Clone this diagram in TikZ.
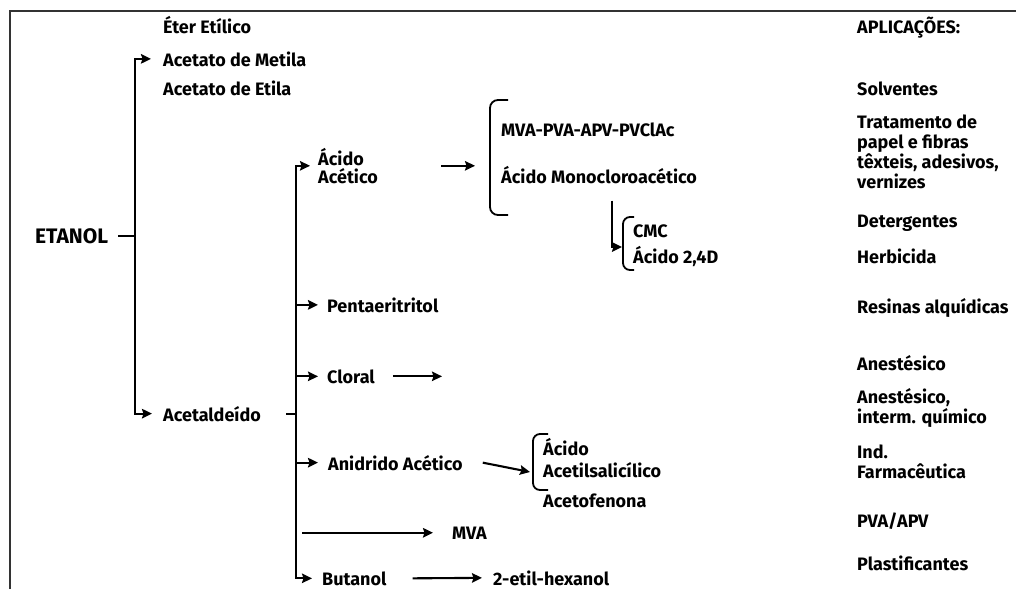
\documentclass[tikz,border=0pt]{standalone}
\usepackage{fontspec}
\setmainfont{Fira Sans}
\usetikzlibrary{arrows.meta,calc}
\begin{document}
\begin{tikzpicture}[x=1pt,y=-1pt,
  txt/.style={anchor=base west, inner sep=0pt, align=left,
    font=\fontsize{18}{20}\selectfont\bfseries},
  ln/.style={line width=2.1pt},
  tip/.tip={Stealth[length=10pt,width=9.5pt,inset=1.5pt]},
  arr/.style={ln, -tip},
  dbl/.style={ln, tip-tip},
  brk/.style={line width=1.8pt, rounded corners=8pt}
]
\useasboundingbox (0,0) rectangle (1016,589);
% frame
\draw[line width=2.6pt, black!80] (10,589) -- (10,11) -- (1016,11);

% left column
\node[txt] (eter) at (163,33) {Éter Etílico};
\node[txt] (metila) at (163,66) {Acetato de Metila};
\node[txt] (etila) at (163,95) {Acetato de Etila};
\node[txt, font=\fontsize{21}{22}\selectfont\bfseries] (etanol) at (35,243) {ETANOL};
\node[txt] (acetald) at (163,421) {Acetaldeído};

% middle (multi-line nodes: base = last line)
\node[txt, font=\fontsize{18}{17.5}\selectfont\bfseries] (acido) at (318,183) {Ácido\\Acético};
\node[txt] (mvapva) at (501,136) {MVA-PVA-APV-PVClAc};
\node[txt] (mono) at (501,183) {Ácido Monocloroacético};
\node[txt] (cmc) at (633,237) {CMC};
\node[txt] (d24) at (633,263) {Ácido 2,4D};
\node[txt] (penta) at (327,312) {Pentaeritritol};
\node[txt] (cloral) at (327,383) {Cloral};
\node[txt] (anid) at (328,470) {Anidrido Acético};
\node[txt, font=\fontsize{18}{22}\selectfont\bfseries] (aas) at (543,477) {Ácido\\Acetilsalicílico};
\node[txt] (acetof) at (543,507) {Acetofenona};
\node[txt] (mva) at (452,539) {MVA};
\node[txt] (butanol) at (322,585) {Butanol};
\node[txt] (etilhex) at (493,585) {2-etil-hexanol};

% applications
\node[txt] (aplic) at (857,33) {APLICAÇÕES:};
\node[txt] (solv) at (857,95) {Solventes};
\node[txt] (trat) at (857,188) {Tratamento de\\papel e fibras\\têxteis, adesivos,\\vernizes};
\node[txt] (deter) at (857,227) {Detergentes};
\node[txt] (herb) at (857,263) {Herbicida};
\node[txt] (resin) at (857,313) {Resinas alquídicas};
\node[txt] (anest1) at (857,370) {Anestésico};
\node[txt] (anest2) at (857,423) {Anestésico,\\interm. químico};
\node[txt] (ind) at (857,478) {Ind.\\Farmacêutica};
\node[txt] (pvaapv) at (857,527) {PVA/APV};
\node[txt] (plast) at (857,570) {Plastificantes};

% reference coordinates
\coordinate (v1) at (135,0);
\coordinate (v2) at (296,0);
\coordinate (brA) at (490,157.5);
\coordinate (brB) at (623,247);
\coordinate (brC) at (533,462);
\coordinate (clend) at (442,0);

% brackets
\draw[brk] (508,100) -| (490,215) -- (508,215);
\draw[brk, rounded corners=7pt] (634,217) -| (623,270) -- (634,270);
\draw[brk, rounded corners=7pt] (548,434) -| (533,490) -- (548,490);

% connectors
\draw[ln] ([xshift=10pt]etanol.east) -- (etanol.east -| v1);
\draw[dbl] ([xshift=-12pt]metila.west) -| (acetald.west -| v1) -- ([xshift=-11pt]acetald.west);
\draw[ln] ([xshift=25pt]acetald.east) -- (acetald.east -| v2);
\draw[dbl] ([xshift=-8pt]acido.west) -| (butanol.west -| v2) -- ([xshift=-10pt]butanol.west);
\draw[arr] (penta.west -| v2) -- ([xshift=-9pt]penta.west);
\draw[arr] (cloral.west -| v2) -- ([xshift=-9pt]cloral.west);
\draw[arr] (anid.west -| v2) -- ([xshift=-10pt]anid.west);
\draw[arr] ($(mva.west -| v2)+(6,0)$) -- ([xshift=-19pt]mva.west);
\draw[arr] ([xshift=18pt]cloral.east) -- (cloral.east -| clend);
\draw[arr] ($(acido.east -| brA)+(-49,0)$) -- ($(acido.east -| brA)+(-15,0)$);
\draw[arr] ($(mono.south west)+(111,17)$) |- ($(brB)+(-1,0)$);
\draw[arr] ([xshift=20pt]anid.east) -- ($(brC)+(-3,10)$);
\draw[arr] ([xshift=26pt]butanol.east) -- ([xshift=-11pt]etilhex.west);
\end{tikzpicture}
\end{document}
